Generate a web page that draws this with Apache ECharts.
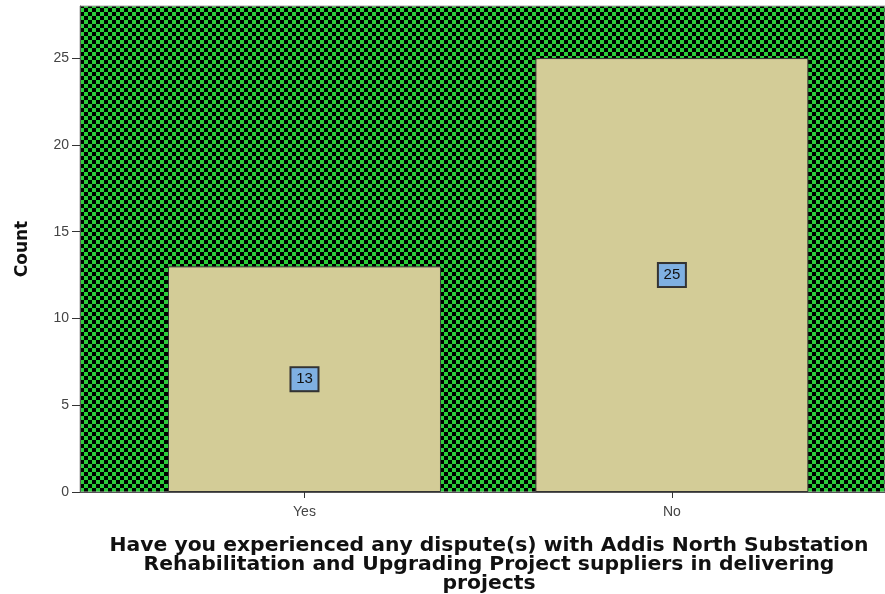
<!DOCTYPE html>
<html>
<head>
<meta charset="utf-8">
<script src="https://cdn.jsdelivr.net/npm/echarts@6/dist/echarts.min.js"></script>
<style>html,body{margin:0;padding:0;background:#fff}#c{width:885px;height:594px}</style>
</head>
<body>
<div id="c"></div>
<script>
const categories = ['Yes', 'No'];
const counts = [13, 25];
const yTicks = [0, 5, 10, 15, 20, 25];
const xTitle = 'Have you experienced any dispute(s) with Addis North Substation\nRehabilitation and Upgrading Project suppliers in delivering\nprojects';
const yTitle = 'Count';

// checker pattern tile
const tile = document.createElement('canvas');
tile.width = 8; tile.height = 8;
const g = tile.getContext('2d');
g.fillStyle = '#000000'; g.fillRect(0, 0, 8, 8);
g.fillStyle = '#2ccc3a';
g.fillRect(0, 0, 4, 4); g.fillRect(4, 4, 4, 4);

const positions = categories.map((c, i) => i + 1);
const chart = echarts.init(document.getElementById('c'), null, {renderer: 'canvas'});
chart.setOption({
  animation: false,
  grid: {left: 80, right: 0, top: 6, bottom: 102, show: true,
         backgroundColor: {image: tile, repeat: 'repeat'}, borderColor: '#aaa', borderWidth: 1},
  graphic: [
    {type: 'text', x: 489, y: 536, scaleX: 1.13, scaleY: 1.05, originX: 0,
     style: {text: xTitle, font: 'bold 18px "DejaVu Sans"', fill: '#111', align: 'center', lineHeight: 18.5, verticalAlign: 'top'}},
    {type: 'text', x: 14, y: 249, rotation: Math.PI / 2,
     style: {text: yTitle, font: 'bold 17px "DejaVu Sans"', fill: '#111', align: 'center', verticalAlign: 'top'}}
  ],
  xAxis: {
    type: 'value', min: 0.389, max: 2.58,
    axisLine: {show: true, lineStyle: {color: '#555'}},
    axisTick: {show: true, customValues: positions, length: 6, lineStyle: {color: '#333'}},
    axisLabel: {customValues: positions, formatter: v => categories[Math.round(v) - 1] || '',
                color: '#444', fontSize: 14, fontFamily: 'Liberation Sans', margin: 13},
    splitLine: {show: false}
  },
  yAxis: {
    type: 'value', min: 0, max: 28, interval: 5,
    axisLine: {show: true, lineStyle: {color: '#555'}},
    axisTick: {show: true, length: 8, customValues: yTicks, lineStyle: {color: '#333'}},
    axisLabel: {customValues: yTicks, color: '#444', fontSize: 14, fontFamily: 'Liberation Sans', margin: 11},
    splitLine: {show: false}
  },
  series: [{
    type: 'bar', barWidth: 273,
    data: positions.map((p, i) => [p, counts[i]]),
    itemStyle: {color: '#d3cc97', borderColor: '#333', borderWidth: 1},
    label: {show: true, position: 'inside', formatter: p => p.value[1],
            color: '#111', fontSize: 15, fontFamily: 'Liberation Sans',
            backgroundColor: '#7fb0e2', borderColor: '#333', borderWidth: 2,
            padding: [4, 4, 3, 4], width: 18, align: 'center'}
  }]
});
</script>
</body>
</html>
